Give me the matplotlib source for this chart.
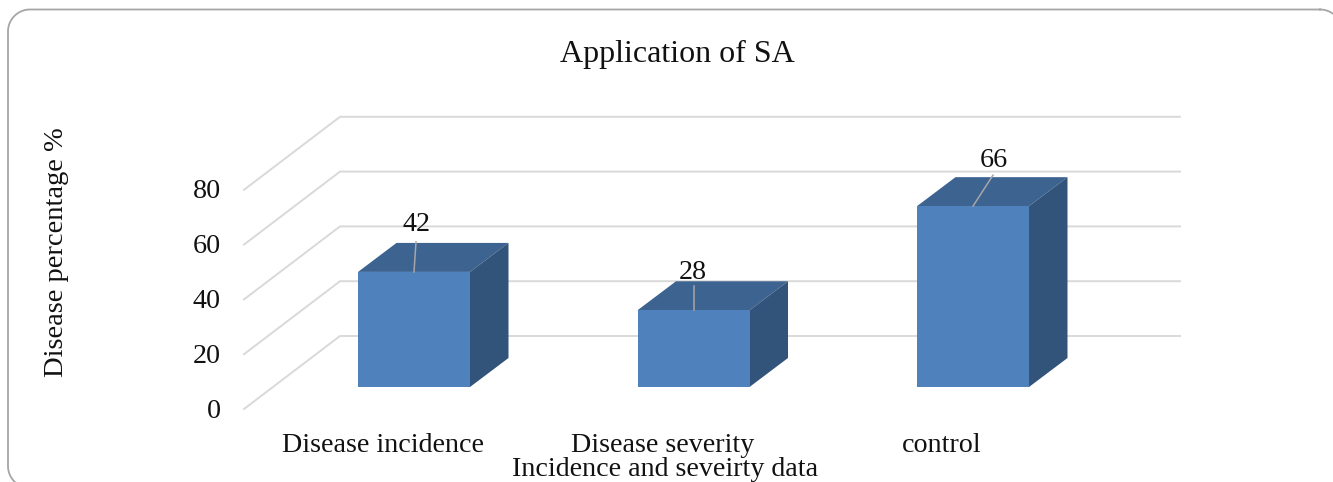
#!/usr/bin/env python3
"""Application of SA: pseudo-3D column chart with a rounded chart border."""

import matplotlib
matplotlib.use('Agg')
import matplotlib.pyplot as plt
import numpy as np
from matplotlib.lines import Line2D
from matplotlib.patches import Polygon, Rectangle
from matplotlib.transforms import IdentityTransform

categories = ["Disease incidence", "Disease severity", "control"]
values = [42, 28, 66]
y_ticks = [0, 20, 40, 60, 80]

title = "Application of SA"
x_label = "Incidence and seveirty data"
y_label = "Disease percentage %"

FRONT = "#4F81BD"
TOP = "#3D6491"
SIDE = "#33547A"
GRID = "#D9D9D9"
BORDER = "#A6A6A6"
LEADER = "#A6A6A6"
TEXT = "#111111"

W, H = 1333, 482
PX_PER_VALUE = 2.74
PX_PER_CAT = 279.5
X0, Y0 = 414, 387  # pixel position of category 0, value 0
LABEL_SIZE = 20.2

plt.rcParams['font.family'] = ['Liberation Serif', 'DejaVu Serif']

fig = plt.figure(figsize=(W / 100, H / 100), dpi=100)
ax = fig.add_axes([0, 0, 1, 1])
ax.set_xlim(-X0 / PX_PER_CAT, (W - X0) / PX_PER_CAT)
ax.set_ylim((Y0 - H) / PX_PER_VALUE, Y0 / PX_PER_VALUE)
ax.axis('off')


def rounded_outline(left, top, right, bottom, r):
    """Closed outline in display pixels; y counted from the top of the picture."""
    corners = [(right - r, top + r, -90), (right - r, bottom - r, 0),
               (left + r, bottom - r, 90), (left + r, top + r, 180)]
    xs, ys = [], []
    for cx, cy, start in corners:
        t = np.radians(np.linspace(start, start + 90, 24))
        xs.extend(cx + r * np.cos(t))
        ys.extend(cy + r * np.sin(t))
    xs.append(xs[0])
    ys.append(ys[0])
    return np.array(xs), H - np.array(ys)


# chart border runs slightly off the canvas on the right and bottom
bx, by = rounded_outline(8, 9.5, 1342, 488, 22)
fig.add_artist(Line2D(bx, by, transform=IdentityTransform(), color=BORDER, lw=1.3))

bar_w = 112 / PX_PER_CAT
depth_x = 38.5 / PX_PER_CAT
depth_y = 29 / PX_PER_VALUE

# walls of the 3D plot: diagonal on the side wall, flat on the back wall
wall_left = (244 - X0) / PX_PER_CAT
wall_back = (340 - X0) / PX_PER_CAT
wall_right = (1180 - X0) / PX_PER_CAT
front_off = (Y0 - 409) / PX_PER_VALUE
back_off = (Y0 - 336) / PX_PER_VALUE
for tick in y_ticks:
    ax.plot([wall_left, wall_back, wall_right],
            [tick + front_off, tick + back_off, tick + back_off],
            color=GRID, lw=1.4, solid_joinstyle='miter', zorder=1)
    ax.text(wall_left - 23 / PX_PER_CAT, tick + front_off - 2 / PX_PER_VALUE, str(tick),
            ha='right', va='center', fontsize=LABEL_SIZE, color=TEXT)

# label offsets from the top of the front face, in pixels
label_offsets = [(3, 47), (-1, 38), (21, 46)]
leader_ends = [(2, 30), (0, 24), (20, 31)]

for i, (cat, val) in enumerate(zip(categories, values)):
    left, right = i - bar_w / 2, i + bar_w / 2
    ax.add_patch(Polygon(
        [(left, val), (left + depth_x, val + depth_y),
         (right + depth_x, val + depth_y), (right, val)],
        fc=TOP, ec="none", zorder=3))
    ax.add_patch(Polygon(
        [(right, 0), (right + depth_x, depth_y),
         (right + depth_x, val + depth_y), (right, val)],
        fc=SIDE, ec="none", zorder=3))
    ax.add_patch(Rectangle((left, 0), bar_w, val, fc=FRONT, ec="none", zorder=4))

    ex, ey = leader_ends[i]
    ax.plot([i, i + ex / PX_PER_CAT], [val, val + ey / PX_PER_VALUE],
            color=LEADER, lw=1.1, zorder=5)
    lx, ly = label_offsets[i]
    ax.text(i + lx / PX_PER_CAT, val + ly / PX_PER_VALUE, str(val),
            ha='center', va='center', fontsize=LABEL_SIZE, color=TEXT, zorder=6)

    ax.text(i - 31 / PX_PER_CAT, (Y0 - 445) / PX_PER_VALUE, cat,
            ha='center', va='center', fontsize=LABEL_SIZE, color=TEXT)

ax.text((677 - X0) / PX_PER_CAT, (Y0 - 54) / PX_PER_VALUE, title,
        ha='center', va='center', fontsize=23, color=TEXT)
ax.text((665 - X0) / PX_PER_CAT, (Y0 - 469) / PX_PER_VALUE, x_label,
        ha='center', va='center', fontsize=LABEL_SIZE, color=TEXT)
ax.text((57 - X0) / PX_PER_CAT, (Y0 - 252) / PX_PER_VALUE, y_label,
        ha='center', va='center', rotation=90, fontsize=20.5, color=TEXT)

fig.savefig("out.png", dpi=100)
plt.close(fig)
